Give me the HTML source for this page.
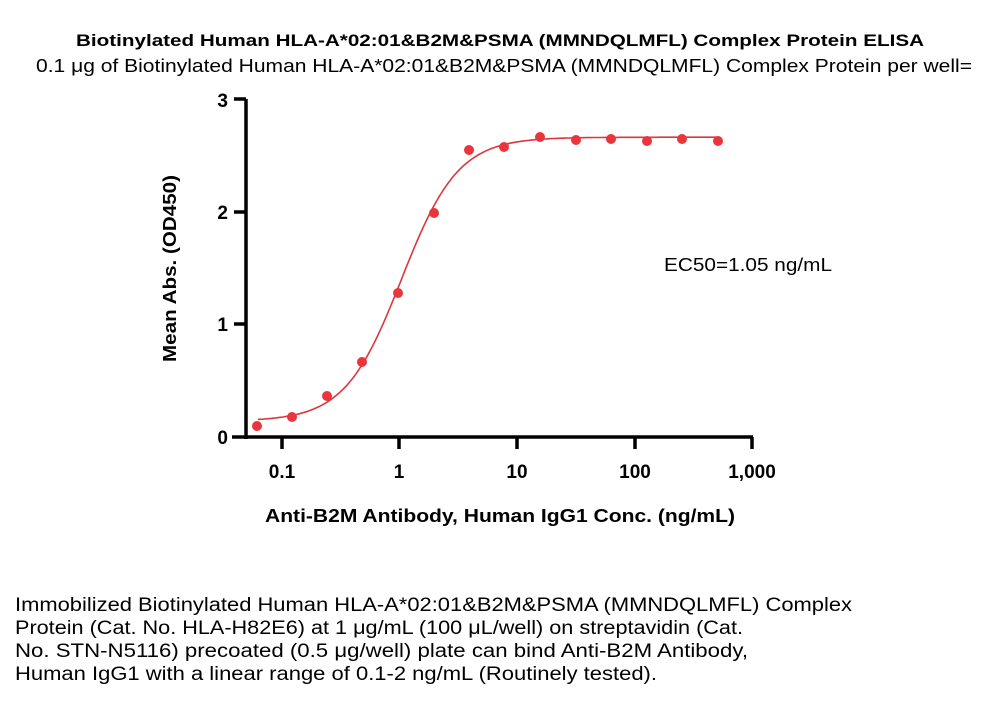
<!DOCTYPE html>
<html><head><meta charset="utf-8"><style>
body{margin:0;background:#fff;width:1000px;height:697px;overflow:hidden;font-family:"Liberation Sans",sans-serif}
</style></head><body>
<svg width="1000" height="697" xmlns="http://www.w3.org/2000/svg" font-family="Liberation Sans, sans-serif">
<text x="76" y="46" font-size="17" font-weight="bold" textLength="848" lengthAdjust="spacingAndGlyphs">Biotinylated Human HLA-A*02:01&amp;B2M&amp;PSMA (MMNDQLMFL) Complex Protein ELISA</text>
<text x="36" y="72" font-size="18" textLength="936" lengthAdjust="spacingAndGlyphs">0.1 μg of Biotinylated Human HLA-A*02:01&amp;B2M&amp;PSMA (MMNDQLMFL) Complex Protein per well=</text>
<g stroke="#000" stroke-width="3.5" fill="none">
<line x1="246" y1="99" x2="246" y2="439"/>
<line x1="232" y1="437" x2="753" y2="437"/>
<line x1="234" y1="99" x2="246" y2="99"/>
<line x1="234" y1="212" x2="246" y2="212"/>
<line x1="234" y1="324" x2="246" y2="324"/>
<line x1="282" y1="437" x2="282" y2="449"/>
<line x1="399" y1="437" x2="399" y2="449"/>
<line x1="517" y1="437" x2="517" y2="449"/>
<line x1="635" y1="437" x2="635" y2="449"/>
<line x1="752" y1="437" x2="752" y2="449"/>
</g>
<g font-size="19" font-weight="bold" text-anchor="end">
<text x="228" y="107">3</text><text x="228" y="219">2</text><text x="228" y="331">1</text><text x="228" y="444">0</text>
</g>
<g font-size="19" font-weight="bold" text-anchor="middle">
<text x="282" y="478">0.1</text><text x="399" y="478">1</text><text x="517" y="478">10</text><text x="635" y="478">100</text><text x="752" y="478">1,000</text>
</g>
<text x="265" y="522" font-size="18" font-weight="bold" textLength="470" lengthAdjust="spacingAndGlyphs">Anti-B2M Antibody, Human IgG1 Conc. (ng/mL)</text>
<text transform="translate(176,362) rotate(-90)" font-size="18" font-weight="bold" textLength="187" lengthAdjust="spacingAndGlyphs">Mean Abs. (OD450)</text>
<text x="664" y="271" font-size="18" textLength="168" lengthAdjust="spacingAndGlyphs">EC50=1.05 ng/mL</text>
<path id="curve" fill="none" stroke="#d9383e" stroke-width="1.6"/>
<g id="pts" fill="#e8363c"></g>
<g font-size="19">
<text x="15" y="611" textLength="837" lengthAdjust="spacingAndGlyphs">Immobilized Biotinylated Human HLA-A*02:01&amp;B2M&amp;PSMA (MMNDQLMFL) Complex</text>
<text x="15" y="634" textLength="728" lengthAdjust="spacingAndGlyphs">Protein (Cat. No. HLA-H82E6) at 1 μg/mL (100 μL/well) on streptavidin (Cat.</text>
<text x="15" y="657" textLength="733" lengthAdjust="spacingAndGlyphs">No. STN-N5116) precoated (0.5 μg/well) plate can bind Anti-B2M Antibody,</text>
<text x="15" y="680" textLength="642" lengthAdjust="spacingAndGlyphs">Human IgG1 with a linear range of 0.1-2 ng/mL (Routinely tested).</text>
</g>
</svg>
<script>
var X=function(c){return 399+117.3*Math.log10(c)},Y=function(v){return 437-112.7*v};
var f=function(c){return 0.14+(2.52)/(1+Math.pow(1.05/c,1.8))};
var d="";for(var i=0;i<=200;i++){var lc=Math.log10(0.0625)+i*(Math.log10(512)-Math.log10(0.0625))/200;var c=Math.pow(10,lc);d+=(i?"L":"M")+X(c).toFixed(1)+","+Y(f(c)).toFixed(1);}
document.getElementById("curve").setAttribute("d",d);
var p=[[257,426],[292,417],[327,396],[362,362],[398,293],[434,213],[469,150],[504,147],[540,137],[576,140],[611,139],[647,141],[682,139],[718,141]];
var g=document.getElementById("pts"),s="";
p.forEach(function(q){s+='<circle cx="'+q[0]+'" cy="'+q[1]+'" r="5"/>';});
g.innerHTML=s;
</script>
</body></html>
